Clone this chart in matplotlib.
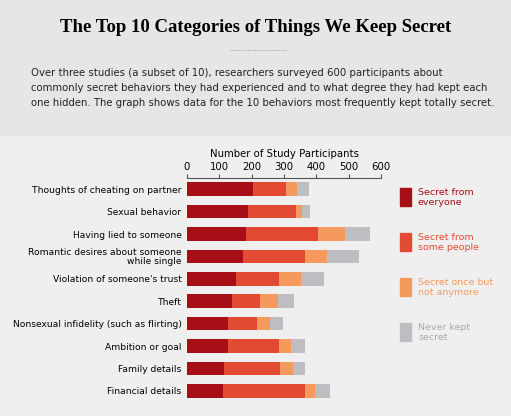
import matplotlib
matplotlib.use("Agg")
import matplotlib.pyplot as plt
from matplotlib.patches import Rectangle

categories = ["Thoughts of cheating on partner", "Sexual behavior", "Having lied to someone",
              "Romantic desires about someone\nwhile single", "Violation of someone's trust", "Theft",
              "Nonsexual infidelity (such as flirting)", "Ambition or goal", "Family details", "Financial details"]
everyone = [205, 190, 182, 173, 150, 140, 128, 127, 113, 110]
some = [100, 147, 222, 192, 134, 86, 90, 157, 175, 255]
once = [35, 18, 86, 67, 68, 54, 40, 38, 41, 32]
never = [38, 26, 75, 101, 72, 52, 40, 43, 36, 44]
series = [everyone, some, once, never]
labels = ["Secret from\neveryone", "Secret from\nsome people", "Secret once but\nnot anymore", "Never kept\nsecret"]
colors = ["#a50f15", "#e34a33", "#f59a5c", "#bdbdc2"]

W, H = 511, 416
fig = plt.figure(figsize=(W/100, H/100), dpi=100)
fig.patch.set_facecolor("#efefef")
fig.add_artist(Rectangle((0, 1-135/H), 1, 135/H, transform=fig.transFigure, color="#e6e6e6", zorder=0))
fig.text(0.5, 1-28/H, "The Top 10 Categories of Things We Keep Secret", ha="center", va="center",
         fontsize=13.5, fontweight="bold", family="Liberation Serif")
fig.add_artist(plt.Line2D([0.45, 0.56], [1-50/H]*2, transform=fig.transFigure, color="#888", lw=0.6, ls=":"))
fig.text(0.06, 1-68/H, "Over three studies (a subset of 10), researchers surveyed 600 participants about\n"
         "commonly secret behaviors they had experienced and to what degree they had kept each\n"
         "one hidden. The graph shows data for the 10 behaviors most frequently kept totally secret.",
         ha="left", va="top", fontsize=7.3, linespacing=1.6, color="#222")

ax = fig.add_axes([187/W, 1-402/H, (381-187)/W, (402-178)/H])
ax.set_facecolor("#efefef")
y = list(range(len(categories)))
left = [0]*len(categories)
for vals, c, l in zip(series, colors, labels):
    ax.barh(y, vals, left=left, color=c, height=0.6, label=l)
    left = [a+b for a, b in zip(left, vals)]
ax.set_ylim(9.5, -0.5)
ax.set_xlim(0, 600)
ax.set_xticks([0, 100, 200, 300, 400, 500, 600])
ax.xaxis.tick_top()
ax.tick_params(axis="x", labelsize=7.3, length=3, color="#555", pad=1)
ax.set_yticks(y)
ax.set_yticklabels(categories, fontsize=6.6, linespacing=0.95)
ax.tick_params(axis="y", length=0, pad=4)
for s in ["right", "bottom", "left"]:
    ax.spines[s].set_visible(False)
ax.spines["top"].set_color("#555")
ax.set_xlabel("Number of Study Participants", fontsize=7.3)
ax.xaxis.set_label_position("top")

lx = 400/W
for i, (c, l) in enumerate(zip(colors, labels)):
    yy = 1-(188+i*45)/H
    fig.add_artist(Rectangle((lx, yy-18/H), 11/W, 18/H, transform=fig.transFigure, color=c))
    fig.text(lx+18/W, yy, l, ha="left", va="top", fontsize=6.8, color=c if i < 3 else "#aaa", linespacing=1.1)

fig.savefig("out.png", dpi=100, facecolor=fig.get_facecolor())
